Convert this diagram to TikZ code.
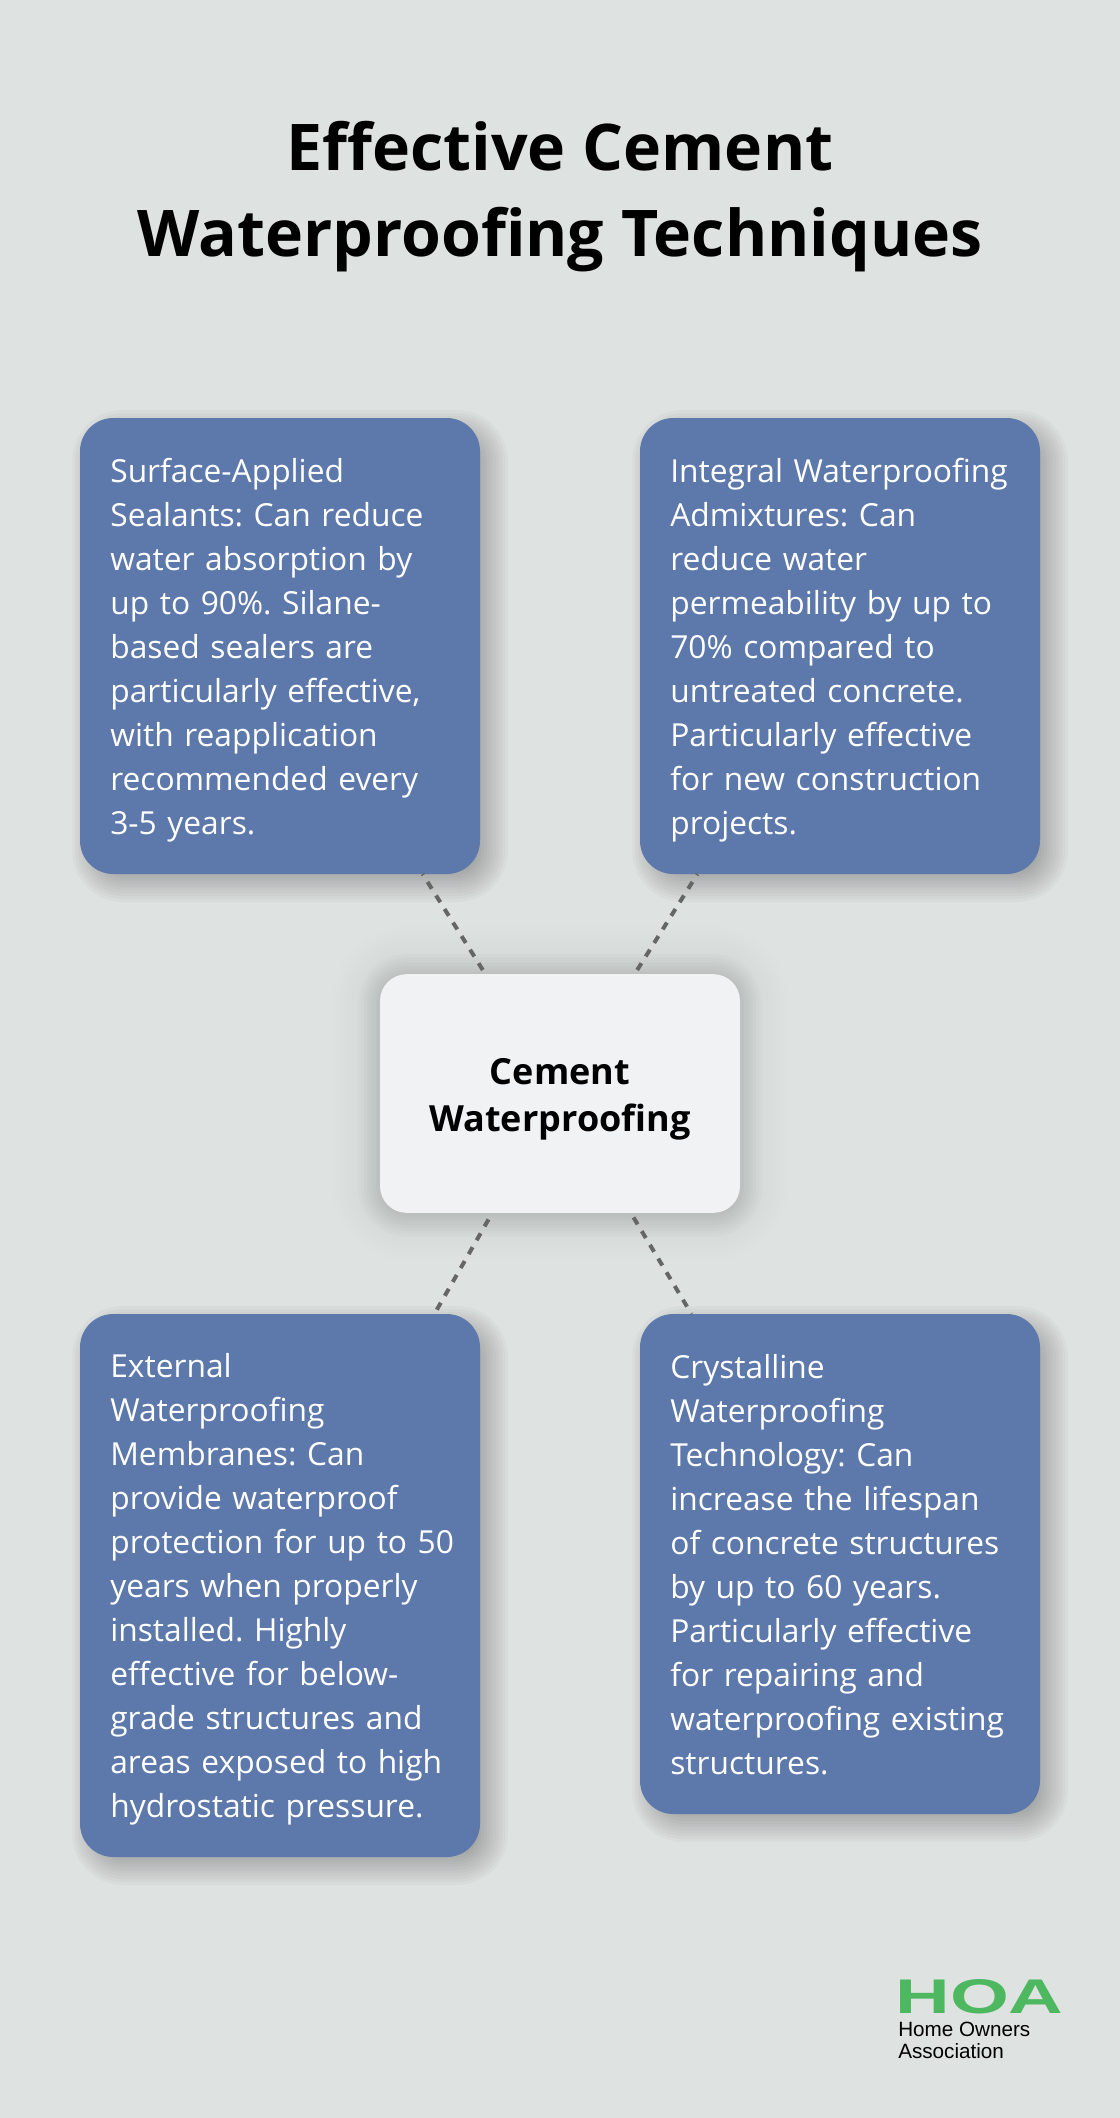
\documentclass[tikz,border=0pt]{standalone}
\usepackage{fontspec}
\usepackage{xcolor}
\setmainfont{Open Sans}
\newfontfamily\logofont{Liberation Sans}
\usetikzlibrary{positioning, calc, backgrounds}
\definecolor{pagegray}{HTML}{DEE2E1}
\definecolor{cardblue}{HTML}{5D78AA}
\definecolor{hubgray}{HTML}{F0F2F4}
\definecolor{linkgray}{HTML}{666666}
\definecolor{logogreen}{HTML}{4DB860}
\tikzset{
  card/.style={fill=cardblue, text=white, rounded corners=25pt, outer sep=0pt, inner xsep=22.75pt, inner ysep=0pt,
    minimum width=300pt, text width=254.5pt, align=left, font=\fontsize{23.8}{33}\selectfont,
    execute at begin node={\frenchspacing\hyphenpenalty=10000\relax\rule{0pt}{24.3pt}},
    execute at end node={\rule[-6pt]{0pt}{6pt}}},
  hub/.style={fill=hubgray, text=black, rounded corners=20pt, outer sep=0pt, minimum width=270pt, minimum height=179pt,
    text width=240pt, align=center, font=\fontsize{27}{35.25}\selectfont\bfseries, execute at begin node={\rule{0pt}{28pt}}},
  link/.style={draw=linkgray, line width=3pt, dash pattern=on 6pt off 6pt},
  heading/.style={align=center, text=black, font=\fontsize{48.3}{64.2}\selectfont\bfseries},
  logomark/.style={text=logogreen, anchor=base west, inner sep=0pt, xscale=1.555, transform shape, font=\logofont\fontsize{36.5}{36.5}\selectfont\bfseries},
  logotext/.style={text=black, anchor=north west, inner sep=0pt, align=left, font=\logofont\fontsize{15.5}{16.5}\selectfont}
}
\newcommand{\softshadow}[6]{
  \foreach \s in {#5}
    \fill[black, opacity=#6, rounded corners={(#4+\s)*0.75pt}]
      ($(#1.south west)+(#2-\s,#3+\s)$) rectangle ($(#1.north east)+(#2+\s,#3-\s)$);
}
\begin{document}
\begin{tikzpicture}[x=0.75pt, y=-0.75pt]
  \useasboundingbox (0, 0) rectangle (1120, 2118);

  \node[heading] (title) at (560, 196.5) {Effective Cement\\Waterproofing Techniques};

  \node[card, minimum height=342pt] (sealants) at (280, 646) {Surface-Applied\\Sealants: Can reduce\\water absorption by\\up to 90\%. Silane-\\based sealers are\\particularly effective,\\with reapplication\\recommended every\\3-5 years.};
  \node[card, minimum height=342pt] (admixtures) at (840, 646) {Integral Waterproofing\\Admixtures: Can\\reduce water\\permeability by up to\\70\% compared to\\untreated concrete.\\Particularly effective\\for new construction\\projects.};
  \node[hub] (hub) at (560, 1093.5) {Cement\\Waterproofing};
  \node[card, minimum height=407.25pt] (membranes) at (280, 1585.5) {External\\Waterproofing\\Membranes: Can\\provide waterproof\\\mbox{protection for up to 50}\\years when properly\\installed. Highly\\effective for below-\\grade structures and\\areas exposed to high\\hydrostatic pressure.};
  \node[card, minimum height=375pt] (crystalline) at (840, 1564) {Crystalline\\Waterproofing\\Technology: Can\\increase the lifespan\\of concrete structures\\by up to 60 years.\\Particularly effective\\for repairing and\\waterproofing existing\\structures.};

  \draw[link, dash phase=5pt] (sealants) -- (hub);
  \draw[link, dash phase=5pt] (admixtures) -- (hub);
  \draw[link, dash phase=8.25pt] (membranes) -- (hub);
  \draw[link, dash phase=5.5pt] (crystalline) -- (hub);

  \node[logomark] (logomark) at (895, 2013) {HOA};
  \node[logotext] (logotext) at (898, 2022) {Home Owners\\Association};

  \begin{pgfonlayer}{background}
    \fill[pagegray] (0, 0) rectangle (1120, 2118);
    \softshadow{hub}{0}{0}{27}{4,8,...,48}{0.005}
    \softshadow{hub}{0}{2}{27}{-2,1,...,22}{0.012}
    \softshadow{sealants}{10}{10}{33}{-12,-9,...,18}{0.024}
    \softshadow{admixtures}{10}{10}{33}{-12,-9,...,18}{0.024}
    \softshadow{membranes}{10}{10}{33}{-12,-9,...,18}{0.024}
    \softshadow{crystalline}{10}{10}{33}{-12,-9,...,18}{0.024}
  \end{pgfonlayer}
\end{tikzpicture}
\end{document}
